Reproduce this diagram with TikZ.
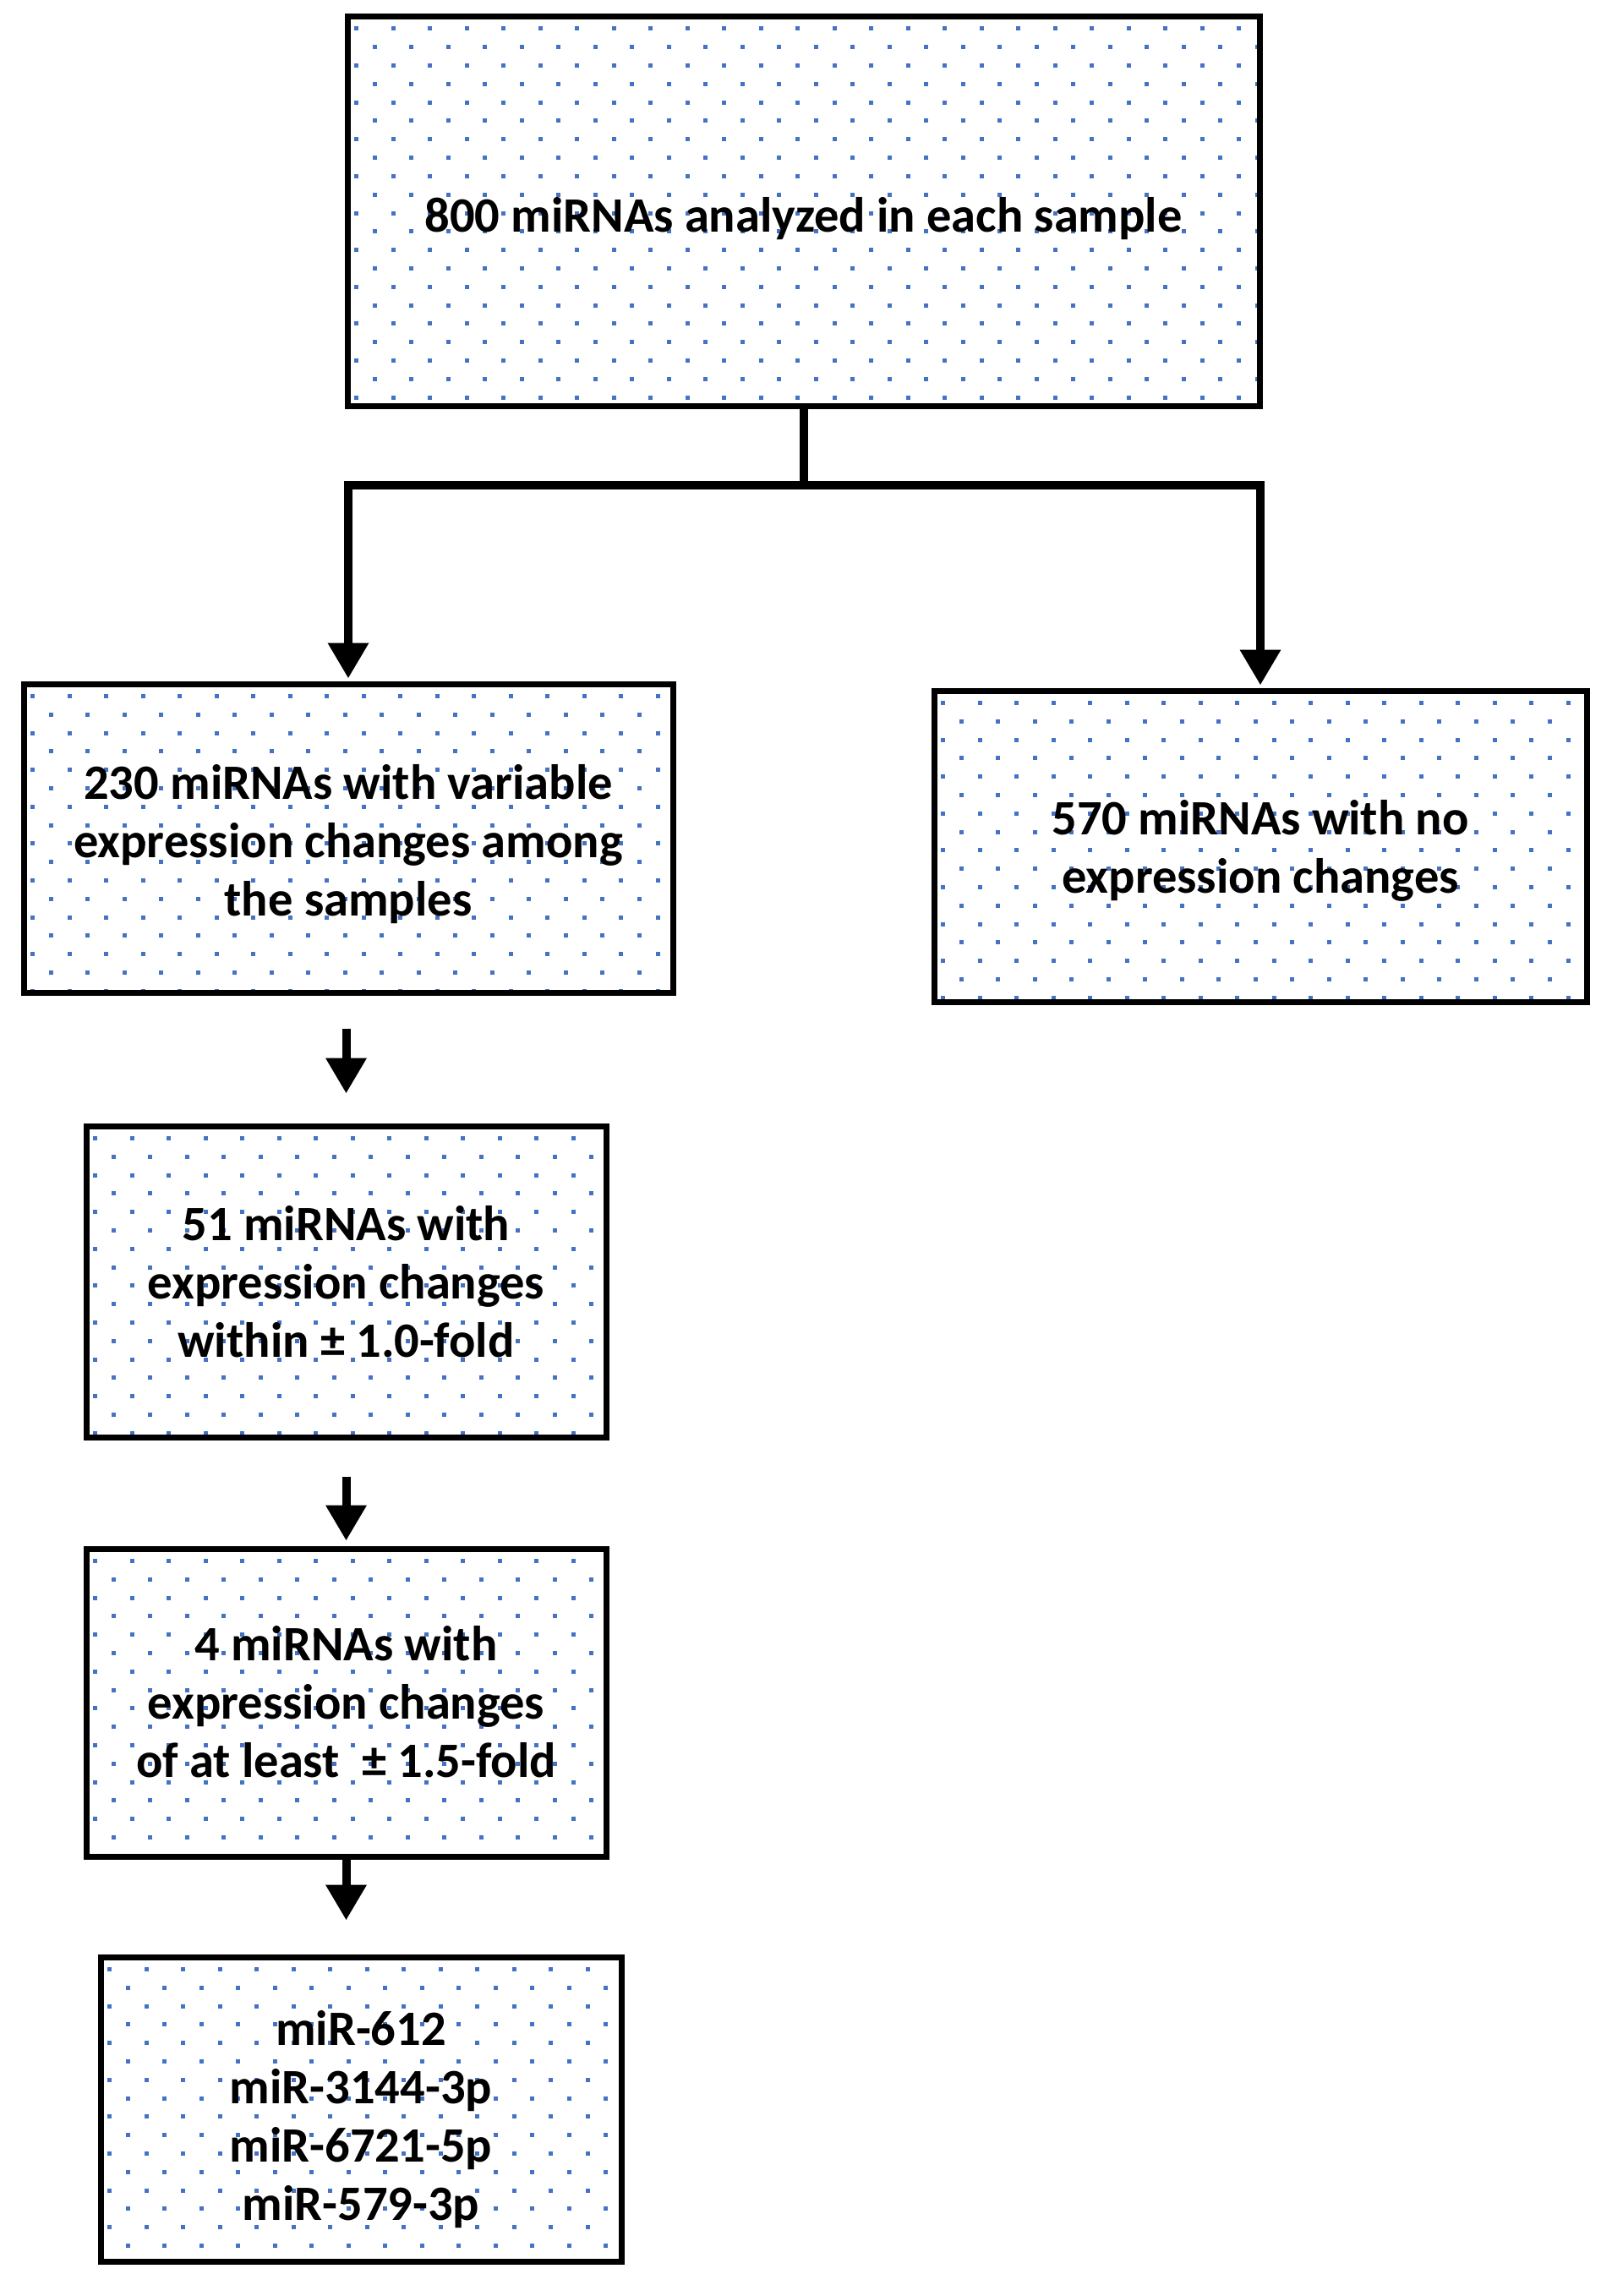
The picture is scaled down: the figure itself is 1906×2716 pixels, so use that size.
\documentclass[tikz,border=0pt]{standalone}
\usepackage{fontspec}
\setmainfont{Carlito}
\usetikzlibrary{arrows.meta,backgrounds}
\definecolor{dotc}{RGB}{68,114,196}
\newcommand\dotsin[1]{%
  \begin{scope}[on background layer]
  \begin{scope}
    \clip (#1.north west) rectangle (#1.south east);
    \begin{scope}[shift={(#1.north west)}]
      \foreach \j in {0,...,22}{
        \foreach \i in {0,...,25}{
          \fill[dotc] ({11.5+43.5*\i+21.75*mod(\j,2)},{15.5+21.8*\j}) rectangle ++(5,5);
        }}
    \end{scope}
  \end{scope}
  \end{scope}}
\newcommand\boxtext[2][-20pt]{\raisebox{#1}[0pt][0pt]{\begin{tabular}{@{}c@{}}#2\end{tabular}}}
\tikzset{
  box/.style={draw, line width=7pt, inner sep=0pt,
    font=\fontsize{58.5}{69}\selectfont\bfseries},
  conn/.style={line width=10pt},
  arr/.style={conn, -{Triangle[width=46pt,length=42pt]}},
}
\begin{document}
\begin{tikzpicture}[x=1pt,y=-1pt]
\useasboundingbox (0,0) rectangle (1906,2716);
\node[box, minimum width=1079pt, minimum height=461pt] (top) at (950.5,250)
  {\boxtext[-17pt]{800 miRNAs analyzed in each sample}};
\node[box, minimum width=768pt, minimum height=365pt] (var) at (412,991.5)
  {\boxtext[-15pt]{230 miRNAs with variable\\expression changes among\\the samples}};
\node[box, minimum width=772pt, minimum height=368pt] (nochg) at (1491,1001)
  {\boxtext[-13pt]{570 miRNAs with no\\expression changes}};
\node[box, minimum width=615pt, minimum height=368pt] (f10) at (409.5,1516)
  {\boxtext[-13pt]{51 miRNAs with\\expression changes\\within ± 1.0-fold}};
\node[box, minimum width=615pt, minimum height=364pt] (f15) at (409.5,2014)
  {\boxtext[-12pt]{4 miRNAs with\\expression changes\\of at least\hspace{0.45em}± 1.5-fold}};
\node[box, minimum width=616pt, minimum height=360pt] (mirs) at (427,2495)
  {\boxtext{miR-612\\miR-3144-3p\\miR-6721-5p\\miR-579-3p}};
\dotsin{top}
\dotsin{var}
\dotsin{nochg}
\dotsin{f10}
\dotsin{f15}
\dotsin{mirs}
\draw[conn] (top.south) -- ++(0,90) coordinate (split);
\draw[arr, shorten >=3pt] (split) -| (var.north);
\draw[arr, shorten >=3pt] (split) -| (nochg.north);
\draw[arr, shorten <=39pt, shorten >=35pt] (f10.north |- var.south) -- (f10.north);
\draw[arr, shorten <=43pt, shorten >=6pt] (f15.north |- f10.south) -- (f15.north);
\draw[arr, shorten >=40pt] (f15.south) -- (f15.south |- mirs.north);
\end{tikzpicture}
\end{document}
